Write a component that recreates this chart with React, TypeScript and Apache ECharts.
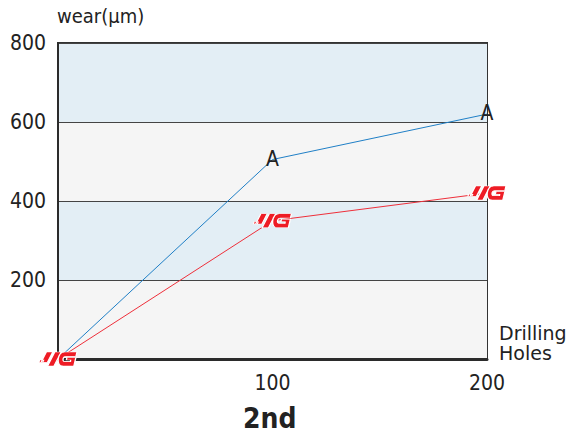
import React, { useEffect, useRef } from "react";
import * as echarts from "echarts";

const xValues = [0, 100, 200];
const seriesA = [0, 505, 620];
const seriesYG = [0, 350, 420];
const yTicks = [200, 400, 600, 800];
const xTicks = [100, 200];

const FONT = "DejaVu Sans Condensed";

const YG_PATH =
  "path://M0.5 7.5 L4.5 7.5 L3.5 9.5 L0 9.5 Z M7 0 L13 0 L8 9.5 L2 9.5 Z M15 0 L21 0 L14.2 13 L8.2 13 Z M36 0 L24.5 0 Q19 0 18.2 6.5 Q17.5 13 23 13 L33 13 L35 5 L26.5 5 L25.9 7.5 L30 7.5 L29.8 9 L24.5 9 Q22.5 9 22.8 6.5 Q23.2 4 25.5 4 L35 4 Z";

export default function App() {
  const ref = useRef<HTMLDivElement>(null);
  useEffect(() => {
    document.body.style.margin = "0";
    const chart = echarts.init(ref.current!, null, { renderer: "svg" });
    chart.setOption({
      animation: false,
      grid: {
        left: 58,
        top: 43,
        width: 429,
        height: 316,
        show: true,
        borderColor: "#333",
        borderWidth: 2,
        backgroundColor: "transparent",
      },
      xAxis: {
        type: "value",
        min: 0,
        max: 200,
        interval: 100,
        axisLine: { show: true, lineStyle: { color: "#2b2b2b", width: 3 } },
        axisTick: { show: false },
        splitLine: { show: false },
        axisLabel: {
          margin: 13,
          fontFamily: FONT,
          fontSize: 21,
          color: "#222",
          formatter: (v: number) => (xTicks.includes(v) ? String(v) : ""),
        },
      },
      yAxis: {
        type: "value",
        min: 0,
        max: 800,
        interval: 200,
        axisLine: { show: true, lineStyle: { color: "#2b2b2b", width: 2 } },
        axisTick: { show: false },
        splitLine: { show: true, lineStyle: { color: "#444", width: 1 } },
        splitArea: {
          show: true,
          areaStyle: { color: ["#f5f5f5", "#e3eef5"] },
        },
        axisLabel: {
          margin: 12,
          fontFamily: FONT,
          fontSize: 21,
          color: "#222",
          formatter: (v: number) => (yTicks.includes(v) ? String(v) : ""),
        },
      },
      series: [
        {
          type: "line",
          data: xValues.map((x, i) => [x, seriesA[i]]),
          lineStyle: { color: "#1f7fc6", width: 1 },
          itemStyle: { color: "#1f7fc6" },
          symbol: "circle",
          symbolSize: 0,
          z: 2,
          label: {
            show: true,
            position: "inside",
            offset: [0, -1],
            fontFamily: FONT,
            fontSize: 21,
            color: "#222",
            formatter: (p: any) => (p.dataIndex === 0 ? "" : "A"),
          },
        },
        {
          type: "line",
          data: xValues.map((x, i) => [x, seriesYG[i]]),
          lineStyle: { color: "#ee2f3a", width: 1 },
          itemStyle: { color: "#ee1c25", borderColor: "#fff", borderWidth: 0.8 },
          symbol: YG_PATH,
          symbolSize: [38, 14],
          symbolKeepAspect: false,
          z: 3,
        },
      ],
      graphic: [
        {
          type: "text",
          left: 57,
          top: 6,
          style: {
            text: "wear(μm)",
            fontFamily: FONT,
            fontSize: 20,
            fill: "#222",
          },
        },
        {
          type: "text",
          left: 499,
          top: 323,
          style: {
            text: "Drilling\nHoles",
            fontFamily: "DejaVu Sans",
            fontSize: 19,
            lineHeight: 20,
            fill: "#222",
          },
        },
        {
          type: "text",
          left: 243,
          top: 404,
          style: {
            text: "2nd",
            fontFamily: FONT,
            fontSize: 28,
            fontWeight: "bold",
            fill: "#222",
          },
        },
      ],
    });
    return () => chart.dispose();
  }, []);
  return <div ref={ref} style={{ width: 575, height: 441 }} />;
}
